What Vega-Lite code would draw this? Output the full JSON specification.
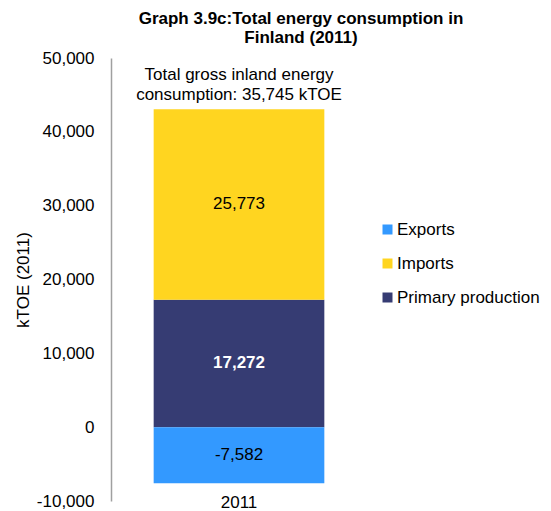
{
  "$schema": "https://vega.github.io/schema/vega-lite/v6.json",
  "width": 256,
  "height": 443,
  "autosize": {"type": "none"},
  "padding": {"left": 111, "top": 58, "right": 184, "bottom": 10},
  "background": "white",
  "config": {
    "font": "Liberation Sans",
    "view": {"stroke": null},
    "locale": {"number": {"decimal": ".", "thousands": ",", "grouping": [3], "currency": ["$", ""], "minus": "-"}}
  },
  "title": {
    "text": ["Graph 3.9c:Total energy consumption in", "Finland (2011)"],
    "font": "Liberation Sans",
    "fontSize": 17,
    "fontWeight": "bold",
    "lineHeight": 19,
    "color": "black",
    "anchor": "middle",
    "frame": "group",
    "dx": 62,
    "offset": 2
  },
  "data": {
    "values": [
      {"year": "2011", "category": "Primary production", "value": 17272, "order": 1},
      {"year": "2011", "category": "Imports", "value": 25773, "order": 2},
      {"year": "2011", "category": "Exports", "value": -7582, "order": 3}
    ]
  },
  "transform": [
    {"stack": "value", "groupby": ["year"], "sort": [{"field": "order"}], "as": ["v0", "v1"]},
    {"calculate": "(datum.v0 + datum.v1) / 2", "as": "mid"}
  ],
  "encoding": {
    "x": {
      "field": "year",
      "type": "nominal",
      "scale": {"paddingInner": 0.2, "paddingOuter": 0.2},
      "axis": {"title": null, "domain": false, "ticks": false, "labelAngle": 0, "labelFontSize": 17, "labelColor": "black", "labelPadding": -7}
    }
  },
  "layer": [
    {
      "mark": {"type": "bar"},
      "encoding": {
        "y": {
          "field": "v0",
          "type": "quantitative",
          "scale": {"domain": [-10000, 50000], "nice": false},
          "axis": {
            "title": "kTOE (2011)",
            "values": [-10000, 0, 10000, 20000, 30000, 40000, 50000],
            "format": ",.0f",
            "grid": false,
            "ticks": false,
            "domainColor": "#a0a0a0",
            "domainWidth": 1.5,
            "labelFontSize": 17,
            "labelColor": "black",
            "labelPadding": 17,
            "titleFontSize": 17,
            "titleFontWeight": "normal",
            "titleColor": "black",
            "titlePadding": 4
          }
        },
        "y2": {"field": "v1"},
        "color": {
          "field": "category",
          "type": "nominal",
          "scale": {"domain": ["Exports", "Imports", "Primary production"], "range": ["#3399FF", "#FFD520", "#363C73"]},
          "legend": {
            "title": null,
            "orient": "none",
            "legendX": 268,
            "legendY": 163,
            "symbolType": "square",
            "symbolSize": 100,
            "symbolStrokeWidth": 0,
            "labelFontSize": 17,
            "labelColor": "black",
            "labelOffset": 1,
            "rowPadding": 16
          }
        }
      }
    },
    {
      "mark": {"type": "rule", "color": "#a0a0a0", "strokeWidth": 1.5},
      "encoding": {"y": {"datum": 0, "type": "quantitative"}}
    },
    {
      "transform": [{"filter": "datum.category !== 'Primary production'"}],
      "mark": {"type": "text", "fontSize": 17, "color": "black", "baseline": "middle"},
      "encoding": {
        "y": {"field": "mid", "type": "quantitative"},
        "text": {"field": "value", "type": "quantitative", "format": ",.0f"}
      }
    },
    {
      "transform": [{"filter": "datum.category === 'Primary production'"}],
      "mark": {"type": "text", "fontSize": 17, "fontWeight": "bold", "color": "white", "baseline": "middle"},
      "encoding": {
        "y": {"field": "mid", "type": "quantitative"},
        "text": {"field": "value", "type": "quantitative", "format": ",.0f"}
      }
    },
    {
      "transform": [{"filter": "datum.category === 'Imports'"}],
      "mark": {
        "type": "text",
        "fontSize": 17,
        "color": "black",
        "baseline": "bottom",
        "lineHeight": 20,
        "dy": -25,
        "text": ["Total gross inland energy", "consumption: 35,745 kTOE"]
      },
      "encoding": {
        "y": {"field": "v1", "type": "quantitative"}
      }
    }
  ]
}
